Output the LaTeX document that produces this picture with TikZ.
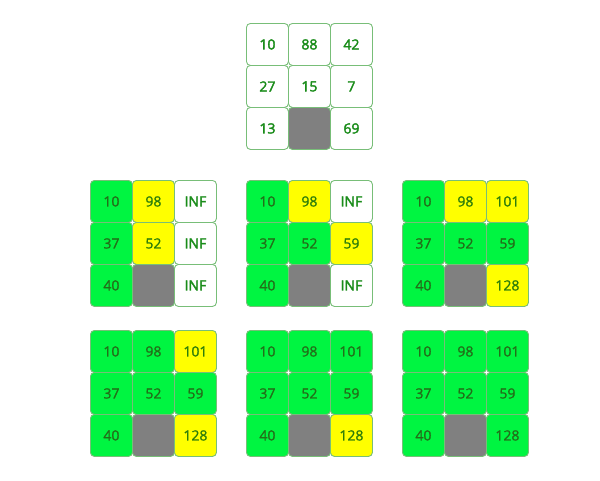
\documentclass[tikz,border=0pt]{standalone}
\usepackage{fontspec}
\setmainfont{Open Sans}
\newfontfamily\semib{Open Sans}[FakeBold=2.4]
\newfontfamily\medi{Open Sans}[FakeBold=1.2]
\definecolor{bordergreen}{RGB}{120,190,120}
\definecolor{txtwhite}{RGB}{25,140,25}
\definecolor{txtgreen}{RGB}{35,110,25}
\definecolor{txtyellow}{RGB}{45,125,10}
\definecolor{cellgreen}{RGB}{0,245,65}
\definecolor{cellyellow}{RGB}{255,255,0}
\definecolor{cellgray}{RGB}{128,128,128}
\newcommand\mygrid[4]{%
  \foreach [count=\i from 0] \s/\t in {#4} {
    \pgfmathtruncatemacro\r{div(\i,3)}
    \pgfmathtruncatemacro\c{mod(\i,3)}
    \node[cell,\s] (#1-\r-\c) at ({#2+\c*42},{#3+\r*42}) {\t};
  }}
\begin{document}
\begin{tikzpicture}[x=1pt,y=-1pt,
  cell/.style={draw=bordergreen, line width=0.9pt, rounded corners=4pt,
    minimum size=42pt, inner sep=0pt, anchor=north west,
    font=\fontsize{14}{14}\medi},
  cw/.style={fill=white, text=txtwhite, font=\fontsize{14}{14}\semib},
  cg/.style={fill=cellgreen, text=txtgreen},
  cy/.style={fill=cellyellow, text=txtyellow},
  ck/.style={fill=cellgray}]
\fill[white] (0,0) rectangle (600,480);
\useasboundingbox (0,0) rectangle (600,480);
\mygrid{t}{246}{23}{cw/10,cw/88,cw/42,cw/27,cw/15,cw/7,cw/13,ck/{},cw/69}
\mygrid{a}{90}{180}{cg/10,cy/98,cw/INF,cg/37,cy/52,cw/INF,cg/40,ck/{},cw/INF}
\mygrid{b}{246}{180}{cg/10,cy/98,cw/INF,cg/37,cg/52,cy/59,cg/40,ck/{},cw/INF}
\mygrid{c}{402}{180}{cg/10,cy/98,cy/101,cg/37,cg/52,cg/59,cg/40,ck/{},cy/128}
\mygrid{d}{90}{330}{cg/10,cg/98,cy/101,cg/37,cg/52,cg/59,cg/40,ck/{},cy/128}
\mygrid{e}{246}{330}{cg/10,cg/98,cg/101,cg/37,cg/52,cg/59,cg/40,ck/{},cy/128}
\mygrid{f}{402}{330}{cg/10,cg/98,cg/101,cg/37,cg/52,cg/59,cg/40,ck/{},cg/128}
\end{tikzpicture}
\end{document}
